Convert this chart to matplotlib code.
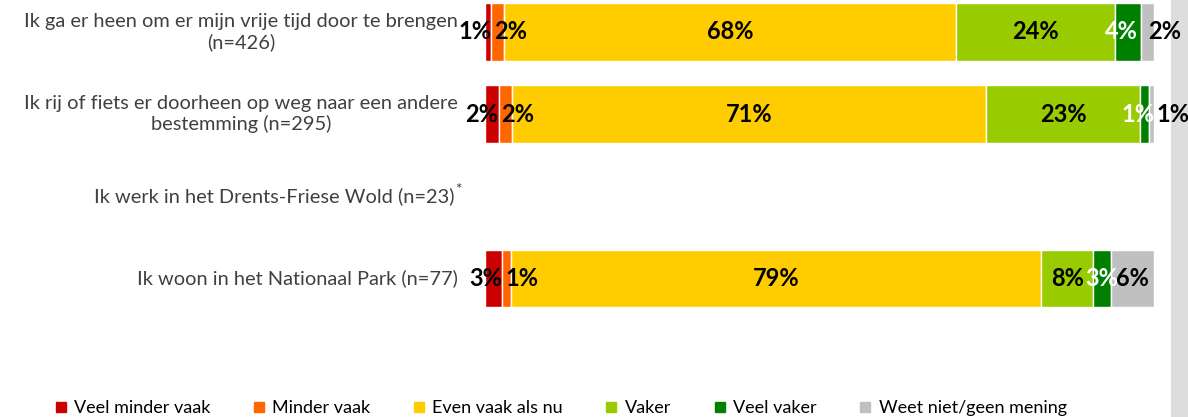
import matplotlib
matplotlib.use("Agg")
import matplotlib.pyplot as plt
from matplotlib.patches import Rectangle
from matplotlib.lines import Line2D
import matplotlib.transforms as mtransforms

plt.rcParams['font.family'] = ['Lato', 'DejaVu Sans']

categories = [
    "Ik ga er heen om er mijn vrije tijd door te brengen\n(n=426)",
    "Ik rij of fiets er doorheen op weg naar een andere\nbestemming (n=295)",
    "Ik werk in het Drents-Friese Wold (n=23)",
    "Ik woon in het Nationaal Park (n=77)",
]
series_names = ["Veel minder vaak", "Minder vaak", "Even vaak als nu",
                "Vaker", "Veel vaker", "Weet niet/geen mening"]
veel_minder = [0.94, 2.03, 0.0, 2.60]
minder      = [1.88, 2.03, 0.0, 1.30]
even        = [67.61, 70.85, 0.0, 79.22]
vaker       = [23.71, 23.05, 0.0, 7.79]
veel_vaker  = [3.99, 1.36, 0.0, 2.60]
weet_niet   = [1.88, 0.68, 0.0, 6.49]
values = [veel_minder, minder, even, vaker, veel_vaker, weet_niet]
colors = ["#CC0000", "#FF6600", "#FFCC00", "#99CC00", "#008000", "#C0C0C0"]
label_colors = ["black", "black", "black", "black", "white", "black"]

W, H = 1188, 417
fig = plt.figure(figsize=(W / 100, H / 100), dpi=100)
fig.patch.set_facecolor("white")

# axes geometry (pixels)
x0, x1 = 485, 1154
row_pitch = 82.2
first_center = 31.8
ax_top = first_center - row_pitch / 2
ax_h = row_pitch * 4
ax = fig.add_axes([x0 / W, (H - (ax_top + ax_h)) / H, (x1 - x0) / W, ax_h / H])
ax.set_xlim(0, 100)
ax.set_ylim(3.5, -0.5)
ax.axis("off")

ypos = list(range(len(categories)))
left = [0.0] * len(categories)
px = 72 / 100  # pixels -> points
for si, (vals, col) in enumerate(zip(values, colors)):
    ax.barh(ypos, vals, left=left, height=0.70, color=col,
            edgecolor="white", linewidth=1.0, label=series_names[si])
    for ri, v in enumerate(vals):
        if v <= 0:
            continue
        txt = f"{round(v):d}%"
        seg_l, seg_r = left[ri], left[ri] + v
        ha, xx, dx = "center", (seg_l + seg_r) / 2, 0
        if si == 0:
            ha, xx, dx = "right", seg_r, 0
        elif si == 1:
            ha, xx, dx = "left", seg_l, 3
        elif si == 4:
            if values[5][ri] < 3:
                dx = -7
        elif si == 5:
            if v < 3:
                ha, xx, dx = "left", seg_l, 7
        ax.annotate(txt, xy=(xx, ri), xytext=(dx * px, 0), textcoords="offset points",
                    ha=ha, va="center", fontsize=17, fontweight="bold",
                    color=label_colors[si], annotation_clip=False)
    left = [l + v for l, v in zip(left, vals)]

# category labels
trans = mtransforms.blended_transform_factory(ax.transAxes, ax.transData)
for ri, cat in enumerate(categories):
    off = -27 if ri != 2 else -31
    ax.annotate(cat, xy=(0, ri), xycoords=trans, xytext=(off * px, 0),
                textcoords="offset points", ha="right", va="center",
                multialignment="center", fontsize=14.4, color="#404040",
                annotation_clip=False)
ax.annotate("*", xy=(0, 2), xycoords=trans, xytext=(-30 * px, 6 * px),
            textcoords="offset points", ha="left", va="center",
            fontsize=11, color="#404040", annotation_clip=False)

# legend
handles = [Line2D([], [], marker="s", linestyle="none", markersize=7,
                  markerfacecolor=c, markeredgecolor=c) for c in colors]
fig.legend(handles, series_names, loc="center", bbox_to_anchor=(561 / W, 1 - 408 / H),
           ncol=6, frameon=False, fontsize=13, handlelength=0.6, handletextpad=0.45,
           columnspacing=2.38, borderaxespad=0, labelcolor="black")

# right gray strip
fig.patches.append(Rectangle((1171 / W, 0), (W - 1171) / W, 1, transform=fig.transFigure,
                             facecolor="#DDDDDD", edgecolor="none", zorder=-1))

fig.savefig("out.png", dpi=100)
